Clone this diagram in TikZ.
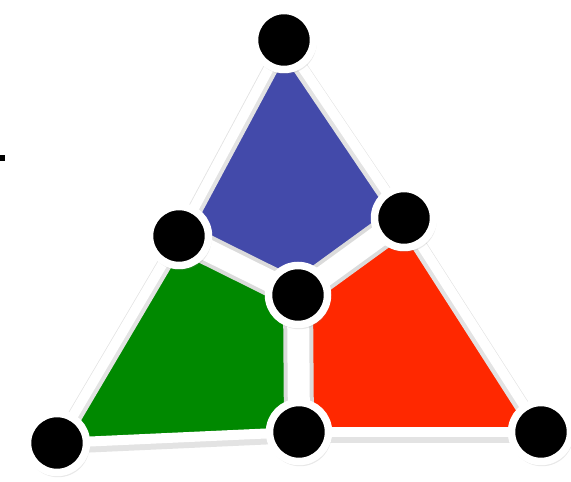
\documentclass[tikz,border=0pt]{standalone}
\usetikzlibrary{shadows}
\definecolor{faceBlue}{RGB}{67,74,170}
\definecolor{faceGreen}{RGB}{0,137,0}
\definecolor{faceRed}{RGB}{255,40,0}
\pgfdeclarelayer{faces}
\pgfdeclarelayer{edges}
\pgfsetlayers{faces,edges,main}
\tikzset{
    vertex/.style={
        circle,
        fill=black,
        draw=white,
        line width=0.15cm,
        minimum size=1.18cm,
        inner sep=0pt,
        drop shadow={opacity=0.18, shadow xshift=0.02cm, shadow yshift=-0.05cm, shadow scale=1.07}
    },
    % outer rim of the triangle
    rim/.style={draw=white, line width=0.2cm, line cap=round},
    rimShade/.style={draw=black!11, line width=0.3cm, line cap=round, transform canvas={yshift=-0.07cm}},
    % inner spokes from the hub
    spoke/.style={draw=white, line width=0.44cm},
    spokeShade/.style={draw=black!14, line width=0.6cm}
}
\begin{document}
\begin{tikzpicture}[x=0.02cm, y=-0.02cm]
\useasboundingbox (0,0) rectangle (571,482);

% Vertices
\node[vertex] (apex) at (284,40) {};
\node[vertex] (upL) at (179,236) {};
\node[vertex] (upR) at (404,218) {};
\node[vertex] (hub) at (298,295) {};
\node[vertex] (baseL) at (57,443) {};
\node[vertex] (baseM) at (299,432) {};
\node[vertex] (baseR) at (541,432) {};

% Faces
\begin{pgfonlayer}{faces}
\fill[faceBlue] (apex.center) -- (upR.center) -- (hub.center) -- (upL.center) -- cycle;
\fill[faceGreen] (upL.center) -- (hub.center) -- (baseM.center) -- (baseL.center) -- cycle;
\fill[faceRed] (upR.center) -- (baseR.center) -- (baseM.center) -- (hub.center) -- cycle;
\end{pgfonlayer}

% Edges
\begin{pgfonlayer}{edges}
\foreach \a/\b in {apex/upL, apex/upR, upL/baseL, upR/baseR, baseL/baseM, baseM/baseR}
    \draw[rimShade] (\a.center) -- (\b.center);
\foreach \a/\b in {apex/upL, apex/upR, upL/baseL, upR/baseR, baseL/baseM, baseM/baseR}
    \draw[rim] (\a.center) -- (\b.center);
\foreach \b in {upL, upR, baseM}
    \draw[spokeShade] (hub.center) -- (\b.center);
\foreach \b in {upL, upR, baseM}
    \draw[spoke] (hub.center) -- (\b.center);
\end{pgfonlayer}

% small mark on the left
\fill[black] (0,155) rectangle (5,161);
\end{tikzpicture}
\end{document}
